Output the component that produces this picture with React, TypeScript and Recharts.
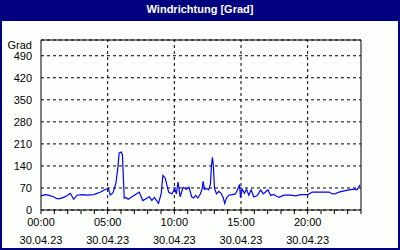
import React from 'react';
import { LineChart, Line, XAxis, YAxis, CartesianGrid, ReferenceLine } from 'recharts';

// Zeitpunkte in Stunden (30.04.23) und Windrichtung in Grad
const hours = [
  0.0, 0.3, 0.55, 0.93, 1.19, 1.44, 1.69, 1.94, 2.2, 2.45, 2.7, 3.08, 3.46, 3.96, 4.47, 4.85,
  5.05, 5.2, 5.4, 5.62, 5.77, 5.86, 6.02, 6.11, 6.24, 6.36, 6.54, 6.74, 7.0, 7.37, 7.63, 7.88,
  8.13, 8.31, 8.51, 8.81, 9.02, 9.14, 9.32, 9.57, 9.82, 10.03, 10.15, 10.28, 10.43, 10.66, 10.91,
  11.1, 11.3, 11.45, 11.6, 11.76, 11.95, 12.08, 12.16, 12.26, 12.46, 12.58, 12.71, 12.78, 12.86,
  12.93, 13.01, 13.16, 13.33, 13.51, 13.66, 13.78, 13.91, 14.09, 14.34, 14.59, 14.79, 14.89,
  14.96, 15.09, 15.26, 15.41, 15.59, 15.76, 15.96, 16.21, 16.47, 16.67, 16.84, 17.02, 17.22,
  17.47, 17.84, 18.22, 18.72, 19.1, 19.47, 20.02, 20.35, 20.73, 21.23, 21.6, 21.86, 22.1, 22.35,
  22.73, 23.1, 23.53, 23.7, 23.93,
];
const grad = [
  45, 49, 47, 42, 36, 36, 40, 45, 53, 34, 47, 49, 47, 49, 57, 66,
  68, 48, 55, 85, 137, 181, 184, 175, 38, 40, 34, 40, 47, 57, 30, 36,
  42, 30, 40, 21, 53, 110, 101, 57, 51, 68, 51, 89, 42, 72, 66,
  72, 42, 38, 47, 38, 51, 66, 91, 66, 68, 64, 83, 140, 167,
  138, 70, 51, 59, 53, 40, 21, 38, 47, 49, 51, 70, 81,
  40, 66, 53, 66, 47, 64, 42, 45, 64, 51, 57, 64, 47,
  49, 40, 47, 47, 45, 49, 49, 57, 57, 57, 57, 51, 52, 57,
  61, 64, 66, 64, 80,
];

const gradTicks = [0, 70, 140, 210, 280, 350, 420, 490];
const compassTicks = [0, 45, 90, 135, 180, 225, 270, 315, 360, 405, 450, 495, 540];
const compassLabels = ['N', 'NE', 'E', 'SE', 'S', 'SW', 'W', 'NW', 'N', 'NE', 'E', 'SE', 'S'];
const hourTicks = [0, 1, 2, 3, 4, 5, 6, 7, 8, 9, 10, 11, 12, 13, 14, 15, 16, 17, 18, 19, 20, 21, 22, 23, 24];
const labelHours = [0, 5, 10, 15, 20];
const timeLabels = ['00:00', '05:00', '10:00', '15:00', '20:00'];
const dateLabel = '30.04.23';

const data = hours.map((h, i) => ({ h, grad: grad[i] }));

const FONT = '"Liberation Sans", Arial, sans-serif';

const TimeTick = (props: any) => {
  const { x, payload } = props;
  const i = labelHours.indexOf(payload.value);
  if (i < 0) return <g />;
  return (
    <g>
      <text x={x} y={226} textAnchor="middle" fontSize={11} fontFamily={FONT} fill="#000">
        {timeLabels[i]}
      </text>
      <text x={x} y={244} textAnchor="middle" fontSize={11} fontFamily={FONT} fill="#000">
        {dateLabel}
      </text>
    </g>
  );
};

const App = () => {
  return (
    <div style={{ position: 'absolute', left: 0, top: 0, width: 400, height: 250, background: '#000080' }}>
      <div
        style={{
          position: 'absolute',
          left: 0,
          top: 3,
          width: 400,
          textAlign: 'center',
          color: '#fff',
          fontFamily: FONT,
          fontWeight: 'bold',
          fontSize: 11,
        }}
      >
        Windrichtung [Grad]
      </div>
      <div style={{ position: 'absolute', left: 2, top: 21, width: 396, height: 227, background: '#fcfffc' }} />
      <div style={{ position: 'absolute', left: 0, top: 0 }}>
        <LineChart width={400} height={250} data={data} margin={{ top: 40, right: 0, bottom: 0, left: 0 }}>
          <CartesianGrid yAxisId="left" vertical={false} stroke="#000" strokeDasharray="3 3" />
          <XAxis
            dataKey="h"
            type="number"
            domain={[0, 24]}
            ticks={hourTicks}
            interval={0}
            height={40}
            tickSize={4}
            stroke="#000"
            tick={<TimeTick />}
          />
          <YAxis
            yAxisId="left"
            width={41}
            domain={[0, 540]}
            ticks={gradTicks}
            interval={0}
            tickLine={false}
            tickSize={6}
            tickMargin={3}
            stroke="#000"
            tick={{ fill: '#000', fontSize: 11, fontFamily: FONT }}
            label={{
              value: 'Grad',
              content: () => (
                <text x={32} y={49} textAnchor="end" fontSize={11} fontFamily={FONT} fill="#000">
                  Grad
                </text>
              ),
            }}
          />
          <YAxis
            yAxisId="right"
            orientation="right"
            width={39}
            domain={[0, 540]}
            ticks={compassTicks}
            interval={0}
            tickSize={3}
            tickMargin={2}
            stroke="#000"
            tickFormatter={(v: number) => compassLabels[compassTicks.indexOf(v)]}
            tick={{ fill: '#000', fontSize: 11, fontFamily: FONT, textAnchor: 'start' }}
          />
          {labelHours.slice(1).map((h) => (
            <ReferenceLine key={h} yAxisId="left" x={h} stroke="#000" strokeDasharray="3 3" />
          ))}
          <ReferenceLine yAxisId="left" y={540} stroke="#000" />
          <Line
            yAxisId="left"
            type="linear"
            dataKey="grad"
            stroke="#0000ff"
            strokeWidth={1.2}
            dot={false}
            isAnimationActive={false}
          />
        </LineChart>
      </div>
    </div>
  );
};

export default App;
